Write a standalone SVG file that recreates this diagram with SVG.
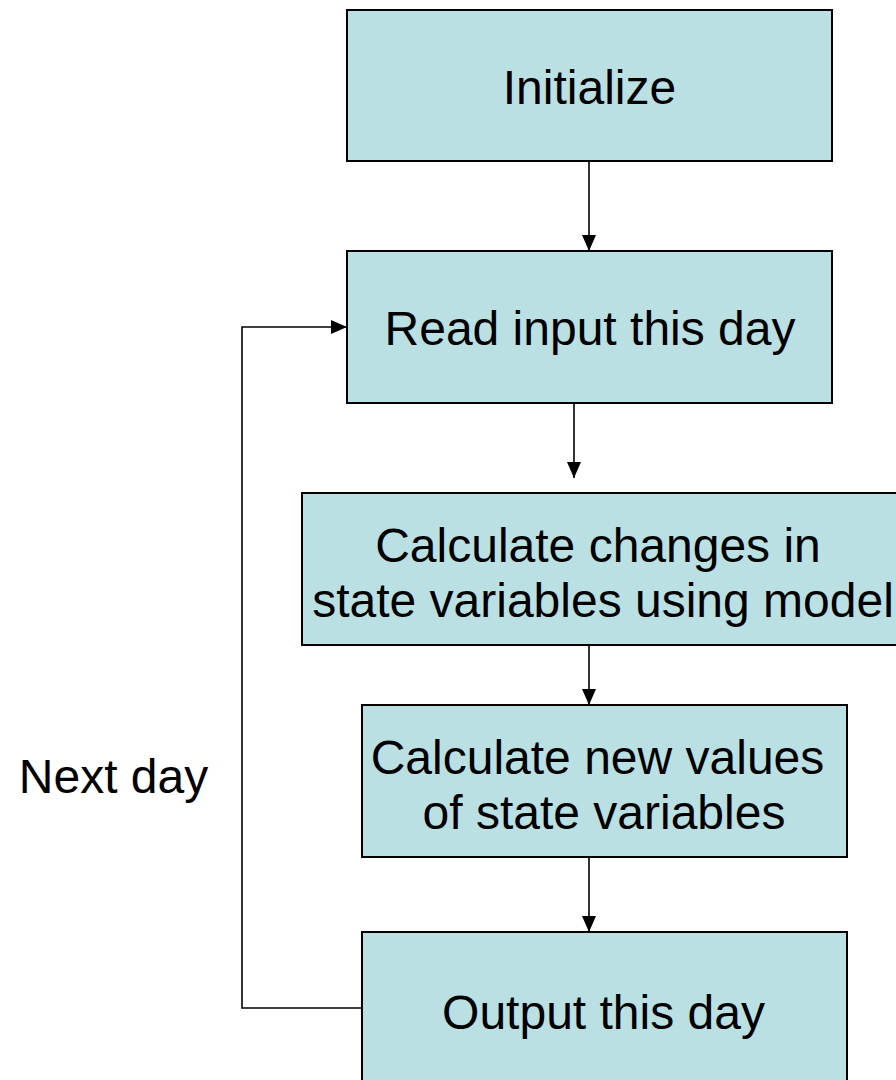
<svg xmlns="http://www.w3.org/2000/svg" width="896" height="1080" viewBox="0 0 896 1080">
  <defs>
    <marker id="arrow" viewBox="0 0 16 14" refX="16" refY="7" markerWidth="16" markerHeight="14" markerUnits="userSpaceOnUse" orient="auto">
      <path d="M0,0 L16,7 L0,14 Z" fill="#000"/>
    </marker>
    <style>
      .box { fill: #BBE0E3; stroke: #000; stroke-width: 2; }
      .lbl { font-family: "Liberation Sans", Arial, sans-serif; font-size: 48px; fill: #000; text-anchor: middle; }
      .conn { fill: none; stroke: #000; stroke-width: 1.6; }
    </style>
  </defs>
  <rect width="896" height="1080" fill="#fff"/>

  <g id="connectors">
    <line class="conn" x1="589" y1="162" x2="589" y2="251" marker-end="url(#arrow)"/>
    <line class="conn" x1="574" y1="404" x2="574" y2="478" marker-end="url(#arrow)"/>
    <line class="conn" x1="589" y1="646" x2="589" y2="705" marker-end="url(#arrow)"/>
    <line class="conn" x1="589" y1="858" x2="589" y2="932" marker-end="url(#arrow)"/>
    <polyline class="conn" points="362,1008 242,1008 242,327 347,327" marker-end="url(#arrow)"/>
  </g>

  <g id="initialize">
    <rect class="box" x="347" y="10" width="485" height="151"/>
    <text class="lbl" x="589.5" y="104">Initialize</text>
  </g>

  <g id="read-input">
    <rect class="box" x="347" y="251" width="485" height="152"/>
    <text class="lbl" x="590" y="345">Read input this day</text>
  </g>

  <g id="calc-changes">
    <rect class="box" x="302" y="493" width="604" height="152"/>
    <text class="lbl" x="598" y="562">Calculate changes in</text>
    <text class="lbl" x="603" y="617">state variables using model</text>
  </g>

  <g id="calc-new-values">
    <rect class="box" x="362" y="705" width="485" height="152"/>
    <text class="lbl" x="597.5" y="774">Calculate new values</text>
    <text class="lbl" x="604" y="829">of state variables</text>
  </g>

  <g id="output">
    <rect class="box" x="362" y="932" width="485" height="160"/>
    <text class="lbl" x="603.5" y="1029">Output this day</text>
  </g>

  <g id="next-day-label">
    <text class="lbl" x="113.5" y="793">Next day</text>
  </g>
</svg>
